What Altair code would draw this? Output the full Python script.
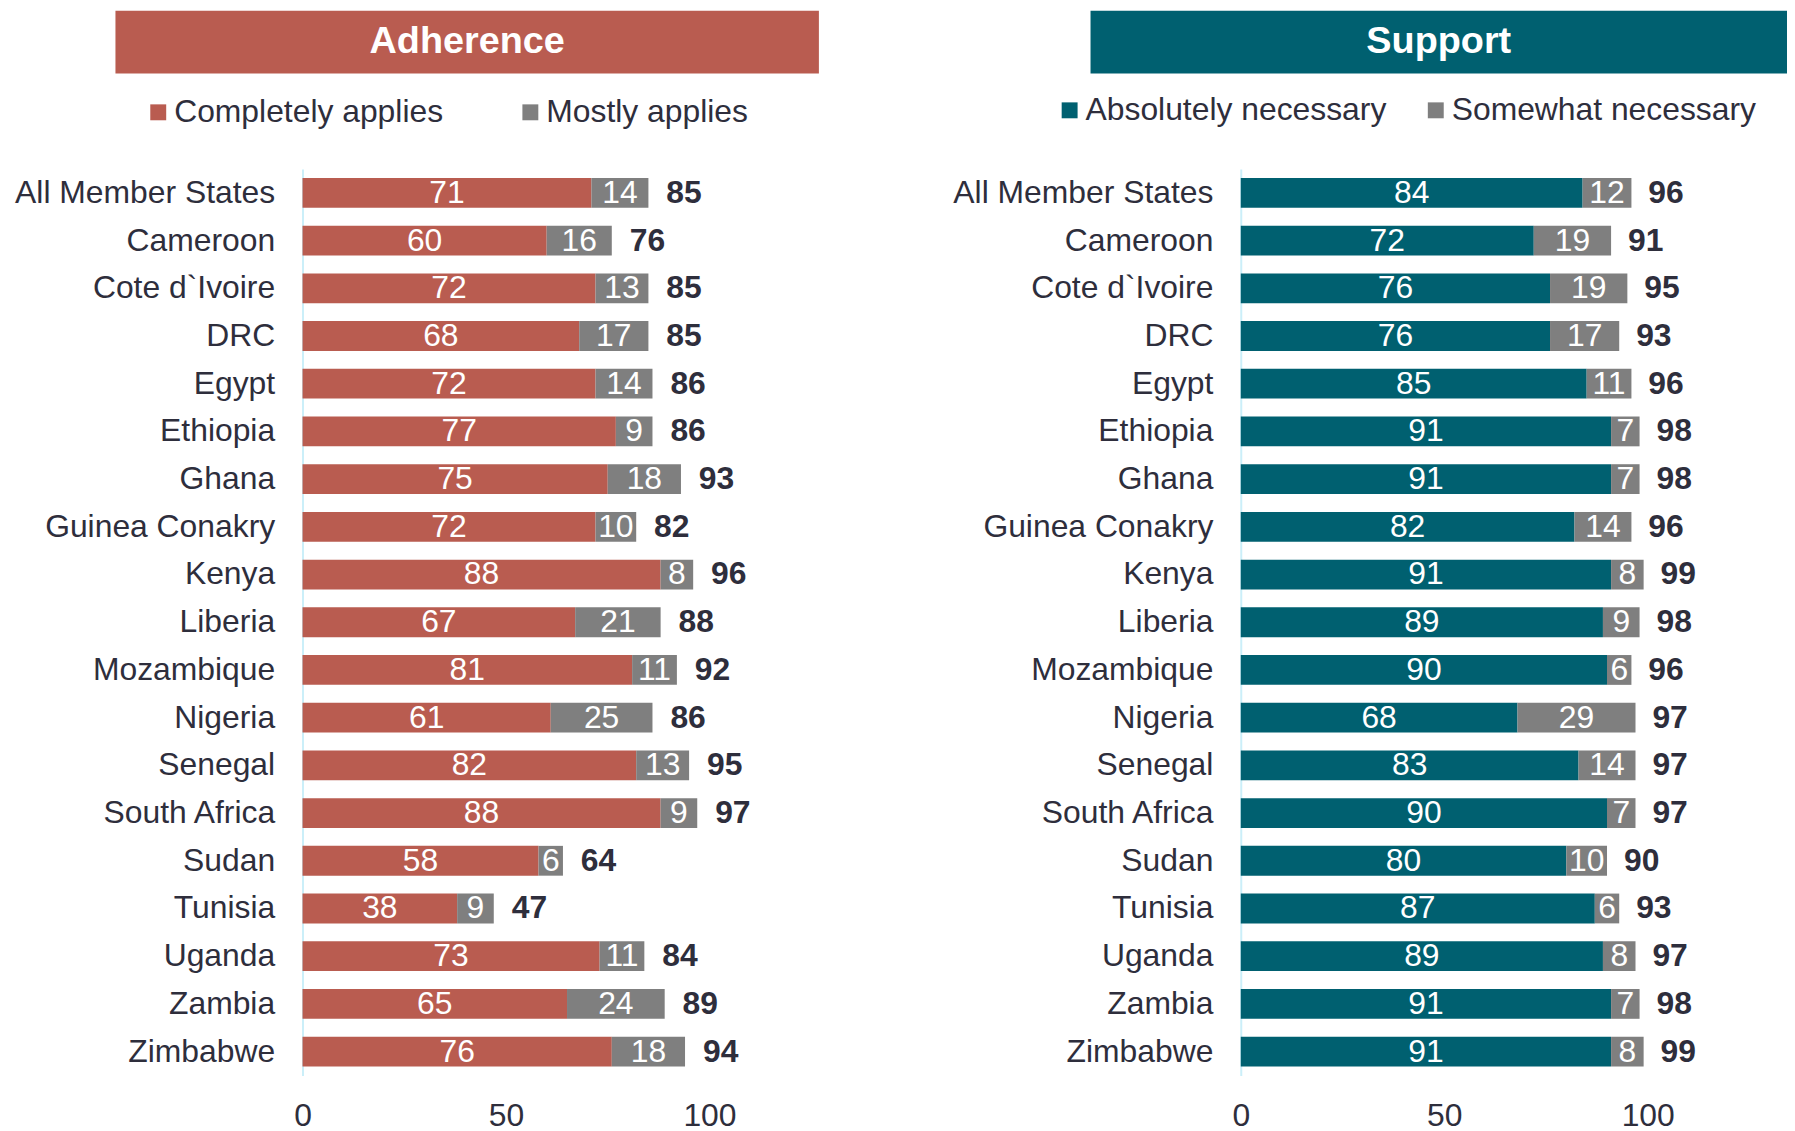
import altair as alt
import pandas as pd

categories = ["All Member States", "Cameroon", "Cote d`Ivoire", "DRC", "Egypt", "Ethiopia",
              "Ghana", "Guinea Conakry", "Kenya", "Liberia", "Mozambique", "Nigeria",
              "Senegal", "South Africa", "Sudan", "Tunisia", "Uganda", "Zambia", "Zimbabwe"]

adh_completely = [71, 60, 72, 68, 72, 77, 75, 72, 88, 67, 81, 61, 82, 88, 58, 38, 73, 65, 76]
adh_mostly = [14, 16, 13, 17, 14, 9, 18, 10, 8, 21, 11, 25, 13, 9, 6, 9, 11, 24, 18]
adh_total = [85, 76, 85, 85, 86, 86, 93, 82, 96, 88, 92, 86, 95, 97, 64, 47, 84, 89, 94]

sup_absolutely = [84, 72, 76, 76, 85, 91, 91, 82, 91, 89, 90, 68, 83, 90, 80, 87, 89, 91, 91]
sup_somewhat = [12, 19, 19, 17, 11, 7, 7, 14, 8, 9, 6, 29, 14, 7, 10, 6, 8, 7, 8]
sup_total = [96, 91, 95, 93, 96, 98, 98, 96, 99, 98, 96, 97, 97, 97, 90, 93, 97, 98, 99]

FONT = "Liberation Sans"
TXT = "#2E2E3C"
RED = "#B95C50"
TEAL = "#006070"
GREY = "#7F7F7F"
AXISC = "#CBEFF9"
W = 409
H = 911


def panel(title, color, s1, s2, v1, v2, totals, bx0, bx1, legx, legy, colpad, tdx):
    n = len(categories)
    long = pd.DataFrame({
        "category": categories * 2,
        "series": [s1] * n + [s2] * n,
        "order": [0] * n + [1] * n,
        "value": v1 + v2,
    })
    tot = pd.DataFrame({"category": categories, "total": totals})
    xscale = alt.Scale(domain=[0, 100], nice=False, zero=True)
    yscale = alt.Scale(paddingInner=0.375, paddingOuter=0.1875)
    yax = alt.Axis(labelFontSize=32, labelFont=FONT, labelColor=TXT, ticks=False,
                   labelPadding=28, labelLimit=600, domainColor=AXISC, domainWidth=2,
                   grid=False)
    y = alt.Y("category:N", sort=categories, title=None, scale=yscale, axis=yax)
    yn = alt.Y("category:N", sort=categories, title=None, scale=yscale)

    base = alt.Chart(long).transform_stack(
        stack="value", groupby=["category"], as_=["v0", "v1"],
        sort=[alt.SortField(field="order", order="ascending")]
    ).transform_calculate(mid="(datum.v0 + datum.v1) / 2")

    bars = base.mark_bar().encode(
        y=y,
        x=alt.X("v0:Q", scale=xscale, title=None,
                axis=alt.Axis(values=[0, 50, 100], labelFontSize=32, labelFont=FONT,
                              labelColor=TXT, ticks=False, domain=False, grid=False,
                              labelPadding=25, labelFlush=False)),
        x2="v1:Q",
        color=alt.Color("series:N", scale=alt.Scale(domain=[s1, s2], range=[color, GREY]),
                        legend=alt.Legend(orient="none", legendX=legx, legendY=legy,
                                          direction="horizontal", title=None,
                                          symbolType="square", symbolSize=256,
                                          symbolStrokeWidth=0, symbolOpacity=1,
                                          labelFontSize=32, labelFont=FONT, labelColor=TXT,
                                          columnPadding=colpad, labelOffset=0, padding=0,
                                          labelLimit=600)),
    )
    inner = base.mark_text(color="white", fontSize=32, font=FONT).encode(
        y=yn, x=alt.X("mid:Q", scale=xscale, title=None), text="value:Q"
    )
    tlabels = alt.Chart(tot).mark_text(align="left", dx=tdx, fontSize=32, fontWeight="bold",
                                       color=TXT, font=FONT).encode(
        y=yn, x=alt.X("total:Q", scale=xscale, title=None), text="total:Q"
    )
    tdf = pd.DataFrame({"t": [title]})
    banner = alt.Chart(tdf).mark_rect(color=color).encode(
        x=alt.value(bx0), x2=alt.value(bx1), y=alt.value(-159), y2=alt.value(-96)
    )
    btxt = alt.Chart(tdf).mark_text(color="white", fontSize=38, fontWeight="bold",
                                    font=FONT).encode(
        x=alt.value((bx0 + bx1) / 2), y=alt.value(-127.5), text="t:N"
    )
    return alt.layer(banner, btxt, bars, inner, tlabels).properties(width=W, height=H)


left = panel("Adherence", RED, "Completely applies", "Mostly applies",
             adh_completely, adh_mostly, adh_total, -188, 519, -161, -73, 71, 18)
right = panel("Support", TEAL, "Absolutely necessary", "Somewhat necessary",
              sup_absolutely, sup_somewhat, sup_total, -151, 549, -188, -75, 33, 17)

chart = alt.hconcat(left, right, spacing=534, bounds="flush").resolve_scale(
    color="independent", x="independent", y="independent"
).resolve_legend(color="independent").configure_view(stroke=None).properties(
    padding={"left": 6, "top": 0, "right": 0, "bottom": 0}
)

chart.save("out.html", embed_options={"renderer": "svg", "actions": False})
